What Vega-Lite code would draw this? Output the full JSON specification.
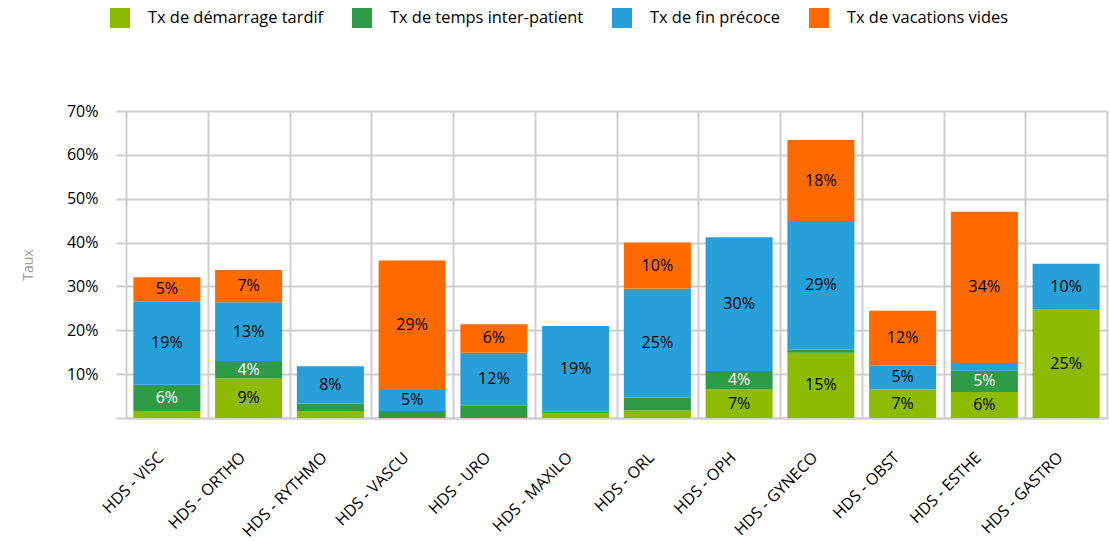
{
  "$schema": "https://vega.github.io/schema/vega-lite/v6.json",
  "width": 981,
  "height": 307,
  "autosize": {"type": "none"},
  "padding": {"left": 126, "top": 111, "right": 3, "bottom": 123},
  "background": "white",
  "config": {"view": {"stroke": null}, "font": "Open Sans"},
  "data": {
    "values": [
      {"cat": "HDS - VISC", "series": "Tx de démarrage tardif", "k": 1, "value": 0.016},
      {"cat": "HDS - VISC", "series": "Tx de temps inter-patient", "k": 2, "value": 0.06},
      {"cat": "HDS - VISC", "series": "Tx de fin précoce", "k": 3, "value": 0.19},
      {"cat": "HDS - VISC", "series": "Tx de vacations vides", "k": 4, "value": 0.0549},
      {"cat": "HDS - ORTHO", "series": "Tx de démarrage tardif", "k": 1, "value": 0.09},
      {"cat": "HDS - ORTHO", "series": "Tx de temps inter-patient", "k": 2, "value": 0.04},
      {"cat": "HDS - ORTHO", "series": "Tx de fin précoce", "k": 3, "value": 0.134},
      {"cat": "HDS - ORTHO", "series": "Tx de vacations vides", "k": 4, "value": 0.0735},
      {"cat": "HDS - RYTHMO", "series": "Tx de démarrage tardif", "k": 1, "value": 0.016},
      {"cat": "HDS - RYTHMO", "series": "Tx de temps inter-patient", "k": 2, "value": 0.017},
      {"cat": "HDS - RYTHMO", "series": "Tx de fin précoce", "k": 3, "value": 0.0849},
      {"cat": "HDS - VASCU", "series": "Tx de temps inter-patient", "k": 2, "value": 0.016},
      {"cat": "HDS - VASCU", "series": "Tx de fin précoce", "k": 3, "value": 0.048},
      {"cat": "HDS - VASCU", "series": "Tx de vacations vides", "k": 4, "value": 0.2949},
      {"cat": "HDS - URO", "series": "Tx de temps inter-patient", "k": 2, "value": 0.028},
      {"cat": "HDS - URO", "series": "Tx de fin précoce", "k": 3, "value": 0.121},
      {"cat": "HDS - URO", "series": "Tx de vacations vides", "k": 4, "value": 0.0649},
      {"cat": "HDS - MAXILO", "series": "Tx de démarrage tardif", "k": 1, "value": 0.01},
      {"cat": "HDS - MAXILO", "series": "Tx de temps inter-patient", "k": 2, "value": 0.005},
      {"cat": "HDS - MAXILO", "series": "Tx de fin précoce", "k": 3, "value": 0.1949},
      {"cat": "HDS - ORL", "series": "Tx de démarrage tardif", "k": 1, "value": 0.017},
      {"cat": "HDS - ORL", "series": "Tx de temps inter-patient", "k": 2, "value": 0.03},
      {"cat": "HDS - ORL", "series": "Tx de fin précoce", "k": 3, "value": 0.248},
      {"cat": "HDS - ORL", "series": "Tx de vacations vides", "k": 4, "value": 0.1049},
      {"cat": "HDS - OPH", "series": "Tx de démarrage tardif", "k": 1, "value": 0.065},
      {"cat": "HDS - OPH", "series": "Tx de temps inter-patient", "k": 2, "value": 0.042},
      {"cat": "HDS - OPH", "series": "Tx de fin précoce", "k": 3, "value": 0.3049},
      {"cat": "HDS - GYNECO", "series": "Tx de démarrage tardif", "k": 1, "value": 0.149},
      {"cat": "HDS - GYNECO", "series": "Tx de temps inter-patient", "k": 2, "value": 0.007},
      {"cat": "HDS - GYNECO", "series": "Tx de fin précoce", "k": 3, "value": 0.293},
      {"cat": "HDS - GYNECO", "series": "Tx de vacations vides", "k": 4, "value": 0.1849},
      {"cat": "HDS - OBST", "series": "Tx de démarrage tardif", "k": 1, "value": 0.065},
      {"cat": "HDS - OBST", "series": "Tx de fin précoce", "k": 3, "value": 0.0549},
      {"cat": "HDS - OBST", "series": "Tx de vacations vides", "k": 4, "value": 0.1249},
      {"cat": "HDS - ESTHE", "series": "Tx de démarrage tardif", "k": 1, "value": 0.059},
      {"cat": "HDS - ESTHE", "series": "Tx de temps inter-patient", "k": 2, "value": 0.049},
      {"cat": "HDS - ESTHE", "series": "Tx de fin précoce", "k": 3, "value": 0.0175},
      {"cat": "HDS - ESTHE", "series": "Tx de vacations vides", "k": 4, "value": 0.3449},
      {"cat": "HDS - GASTRO", "series": "Tx de démarrage tardif", "k": 1, "value": 0.247},
      {"cat": "HDS - GASTRO", "series": "Tx de fin précoce", "k": 3, "value": 0.1049}
    ]
  },
  "layer": [
    {
      "mark": {"type": "bar", "width": {"band": 0.82}},
      "encoding": {
        "x": {
          "field": "cat", "type": "nominal",
          "sort": ["HDS - VISC", "HDS - ORTHO", "HDS - RYTHMO", "HDS - VASCU", "HDS - URO", "HDS - MAXILO", "HDS - ORL", "HDS - OPH", "HDS - GYNECO", "HDS - OBST", "HDS - ESTHE", "HDS - GASTRO"],
          "scale": {"paddingInner": 0, "paddingOuter": 0},
          "axis": {
            "title": null, "labelAngle": -45, "labelFontSize": 16, "labelColor": "black",
            "ticks": false, "grid": true, "tickBand": "extent", "gridColor": "#cfcfcf", "gridWidth": 2,
            "domainColor": "#cfcfcf", "domainWidth": 2, "labelPadding": 31, "labelOffset": -12
          }
        },
        "y": {
          "field": "value", "type": "quantitative", "stack": "zero",
          "scale": {"domain": [0, 0.7]},
          "axis": {
            "title": "Taux", "format": ".0%", "values": [0, 0.1, 0.2, 0.3, 0.4, 0.5, 0.6, 0.7],
            "labelExpr": "datum.value === 0 ? '' : datum.label",
            "grid": true, "gridColor": "#cfcfcf", "gridWidth": 2,
            "tickColor": "#cfcfcf", "tickWidth": 2, "tickSize": 10, "domain": false,
            "labelFontSize": 16, "labelColor": "black", "labelPadding": 18,
            "titleColor": "#9a9a9a", "titleFontSize": 14, "titleFontWeight": "normal", "titlePadding": 31
          }
        },
        "color": {
          "field": "series", "type": "nominal",
          "scale": {
            "domain": ["Tx de démarrage tardif", "Tx de temps inter-patient", "Tx de fin précoce", "Tx de vacations vides"],
            "range": ["#8DBB00", "#2E9B47", "#27A0DA", "#FF6A00"]
          },
          "legend": {
            "orient": "none", "legendX": -16, "legendY": -103, "direction": "horizontal", "columns": 4,
            "title": null, "symbolType": "square", "symbolSize": 400, "labelLimit": 0,
            "labelFontSize": 16.4, "labelOffset": 18, "columnPadding": 28, "symbolStrokeWidth": 0, "labelColor": "black"
          }
        },
        "order": {"field": "k"}
      }
    },
    {
      "transform": [
        {"stack": "value", "groupby": ["cat"], "sort": [{"field": "k"}], "as": ["lo", "hi"]},
        {"filter": "datum.value >= 0.035"},
        {"fold": ["lo", "hi"], "as": ["edge", "pos"]},
        {"aggregate": [{"op": "mean", "field": "pos", "as": "mid"}], "groupby": ["cat", "series", "value"]}
      ],
      "mark": {"type": "text", "fontSize": 16, "baseline": "middle", "align": "center"},
      "encoding": {
        "x": {
          "field": "cat", "type": "nominal",
          "sort": ["HDS - VISC", "HDS - ORTHO", "HDS - RYTHMO", "HDS - VASCU", "HDS - URO", "HDS - MAXILO", "HDS - ORL", "HDS - OPH", "HDS - GYNECO", "HDS - OBST", "HDS - ESTHE", "HDS - GASTRO"]
        },
        "y": {"field": "mid", "type": "quantitative"},
        "text": {"field": "value", "type": "quantitative", "format": ".0%"},
        "color": {
          "condition": {"test": "datum.series === 'Tx de temps inter-patient'", "value": "white"},
          "value": "black"
        }
      }
    }
  ]
}
